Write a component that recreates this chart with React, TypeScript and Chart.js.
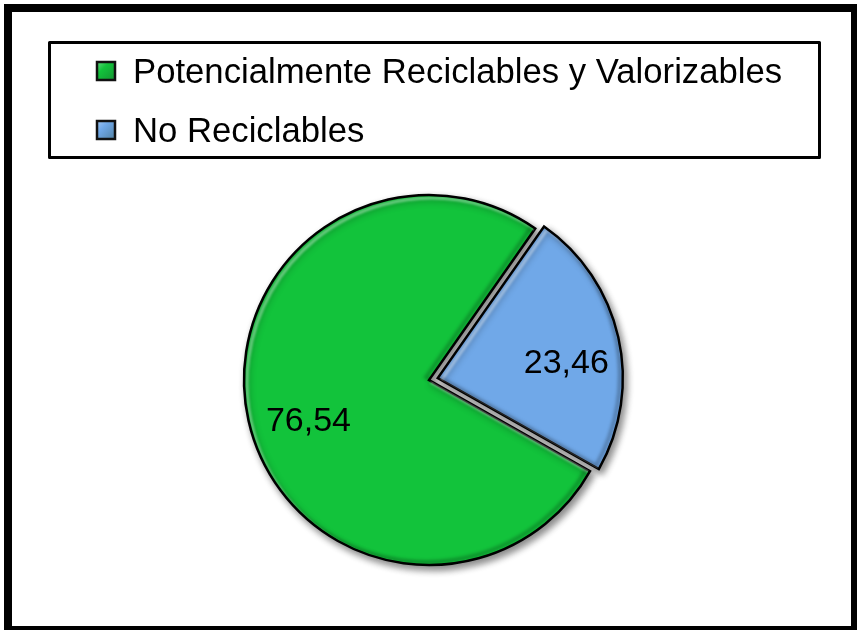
import React, { useEffect, useRef } from "react";
import { Chart, registerables } from "chart.js";

Chart.register(...registerables);

const categories = ["Potencialmente Reciclables y Valorizables", "No Reciclables"];
const values = [76.54, 23.46];
const sliceColors = ["#12C33B", "#70A8E8"];
const sliceOffsets = [0, 36];

const FONT = "'Liberation Sans', Arial, sans-serif";

function fmt(v: number) {
  return v.toFixed(2).replace(".", ",");
}

function arcPath(ctx: CanvasRenderingContext2D, el: any, inset: number) {
  const r = Math.max(el.outerRadius - inset, 0);
  ctx.beginPath();
  ctx.moveTo(el.x, el.y);
  ctx.arc(el.x, el.y, r, el.startAngle, el.endAngle);
  ctx.closePath();
}

const decoPlugin = {
  id: "deco",
  beforeDraw(chart: any) {
    const ctx = chart.ctx;
    ctx.save();
    ctx.fillStyle = "#ffffff";
    ctx.fillRect(0, 0, chart.width, chart.height);
    ctx.restore();
  },
  beforeDatasetsDraw(chart: any) {
    const ctx = chart.ctx;
    ctx.save();
    ctx.shadowColor = "rgba(0,0,0,0.45)";
    ctx.shadowBlur = 7;
    ctx.shadowOffsetX = 3;
    ctx.shadowOffsetY = 4;
  },
  afterDatasetsDraw(chart: any) {
    const ctx = chart.ctx;
    ctx.restore();
    const meta = chart.getDatasetMeta(0);
    const ds = chart.data.datasets[0];
    meta.data.forEach((el: any, i: number) => {
      const off = (el.options.offset || 0) / 4;
      const half = (el.startAngle + el.endAngle) / 2;
      const tx = Math.cos(half) * off;
      const ty = Math.sin(half) * off;
      ctx.save();
      ctx.translate(tx, ty);
      arcPath(ctx, el, 1.5);
      ctx.clip();
      ctx.save();
      ctx.filter = "blur(1.2px)";
      ctx.translate(3, 3);
      arcPath(ctx, el, 0);
      ctx.strokeStyle = "rgba(255,255,255,0.38)";
      ctx.lineWidth = 3;
      ctx.stroke();
      ctx.restore();
      ctx.save();
      ctx.filter = "blur(1.5px)";
      ctx.translate(-3, -3);
      arcPath(ctx, el, 0);
      ctx.strokeStyle = "rgba(0,0,0,0.22)";
      ctx.lineWidth = 4;
      ctx.stroke();
      ctx.restore();
      ctx.restore();
      const pr = el.outerRadius * 0.69;
      const lx = el.x + tx + Math.cos(half) * pr;
      const ly = el.y + ty + Math.sin(half) * pr;
      ctx.save();
      ctx.font = `34px ${FONT}`;
      ctx.fillStyle = "#000";
      ctx.textAlign = "center";
      ctx.textBaseline = "alphabetic";
      ctx.fillText(fmt(ds.data[i]), lx + 4, ly + 23);
      ctx.restore();
    });
  },
  afterDraw(chart: any) {
    const ctx = chart.ctx;
    const ds = chart.data.datasets[0];
    ctx.save();
    ctx.strokeStyle = "#000";
    ctx.lineWidth = 8;
    ctx.strokeRect(8, 8, 847, 622);
    ctx.lineWidth = 3;
    ctx.lineJoin = "round";
    ctx.strokeRect(49.5, 42.5, 770, 115);
    const rows = [83, 142];
    chart.data.labels.forEach((lab: string, i: number) => {
      const base = rows[i];
      const mx = 97, my = base - 21, ms = 18;
      const g = ctx.createLinearGradient(mx, my, mx + ms, my + ms);
      g.addColorStop(0, "#ffffff");
      g.addColorStop(0.35, ds.backgroundColor[i]);
      g.addColorStop(1, "#1a3a20");
      ctx.fillStyle = ds.backgroundColor[i];
      ctx.fillRect(mx, my, ms, ms);
      ctx.globalAlpha = 0.35;
      ctx.fillStyle = g;
      ctx.fillRect(mx, my, ms, ms);
      ctx.globalAlpha = 1;
      ctx.strokeStyle = "#111";
      ctx.lineWidth = 2.5;
      ctx.lineJoin = "miter";
      ctx.strokeRect(mx, my, ms, ms);
      ctx.fillStyle = "#000";
      ctx.font = `34.7px ${FONT}`;
      ctx.textAlign = "left";
      ctx.textBaseline = "alphabetic";
      ctx.fillText(lab, 133, base);
    });
    ctx.restore();
  },
};

export default function App() {
  const ref = useRef<HTMLCanvasElement | null>(null);
  useEffect(() => {
    if (!ref.current) return;
    const chart = new Chart(ref.current, {
      type: "pie",
      data: {
        labels: categories,
        datasets: [
          {
            data: values,
            backgroundColor: sliceColors,
            borderColor: "#000000",
            borderWidth: 2.5,
            borderJoinStyle: "miter",
            offset: sliceOffsets,
          } as any,
        ],
      },
      options: {
        responsive: false,
        animation: false,
        events: [],
        rotation: 119.5,
        radius: 185,
        layout: { padding: { left: 200, right: 199, top: 190, bottom: 60 } },
        plugins: { legend: { display: false }, tooltip: { enabled: false } },
      } as any,
      plugins: [decoPlugin],
    });
    return () => chart.destroy();
  }, []);
  return (
    <div style={{ position: "fixed", left: 0, top: 0, width: 857, height: 630 }}>
      <canvas ref={ref} width={857} height={630} style={{ width: 857, height: 630, display: "block" }} />
    </div>
  );
}
